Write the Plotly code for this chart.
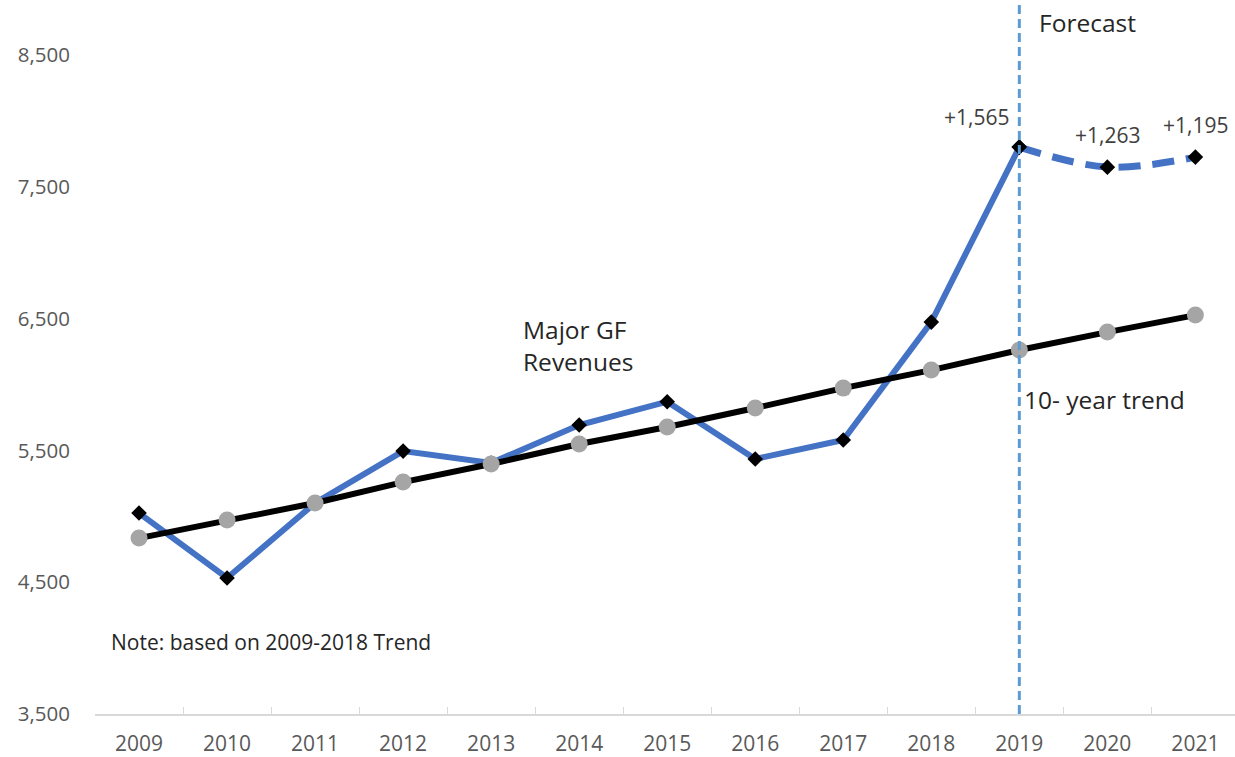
import plotly.graph_objects as go

years = [str(y) for y in range(2009, 2022)]
actual_years = years[:11]
actual = [5025, 4532, 5101, 5495, 5405, 5693, 5870, 5435, 5579, 6474, 7802]
forecast_years = years[10:]
forecast = [7802, 7650, 7726]
trend = [4835, 4972, 5101, 5260, 5397, 5549, 5678, 5822, 5973, 6110, 6262, 6398, 6527]
diff_labels = ["+1,565", "+1,263", "+1,195"]
y_ticks = [3500, 4500, 5500, 6500, 7500, 8500]

FONT = "Open Sans"
BLUE = "#4472C4"

def idx(year):
    return years.index(year)

fig = go.Figure()

# actual revenues
fig.add_trace(go.Scatter(
    x=actual_years, y=actual, mode="lines+markers",
    line=dict(color=BLUE, width=6),
    marker=dict(symbol="diamond", size=12, color="black"),
    hoverinfo="x+y"))

# forecast
fig.add_trace(go.Scatter(
    x=forecast_years, y=forecast, mode="lines+markers",
    line=dict(color=BLUE, width=7, dash="22px,12px", shape="spline"),
    marker=dict(symbol="diamond", size=12, color="black"),
    hoverinfo="x+y"))

# 10-year trend
fig.add_trace(go.Scatter(
    x=years, y=trend, mode="lines+markers",
    line=dict(color="black", width=6),
    marker=dict(symbol="circle", size=17, color="#A5A5A5"),
    hoverinfo="x+y"))

# difference labels
shifts = [(-43, 30), (0, 32), (0, 32)]
for xv, yv, lab, (dx, dy) in zip(forecast_years, forecast, diff_labels, shifts):
    fig.add_annotation(x=idx(xv), y=yv, text=lab, showarrow=False,
                       xshift=dx, yshift=dy,
                       font=dict(family=FONT, size=21, color="#404040"))

# forecast divider
fig.add_shape(type="line", xref="x", yref="paper",
              x0=idx("2019"), x1=idx("2019"), y0=0, y1=1.006,
              line=dict(color="#5B9BD5", width=3, dash="9px,5px"))

text_font = dict(family=FONT, size=24.5, color="#262626")
fig.add_annotation(x=idx("2019"), y=1.0, xref="x", yref="paper", text="Forecast",
                   showarrow=False, xanchor="left", yanchor="middle",
                   xshift=18, yshift=-13, font=text_font)
fig.add_annotation(x=idx("2019"), y=5890, text="10- year trend", showarrow=False,
                   xanchor="left", xshift=3, font=text_font)
fig.add_annotation(x=idx("2013"), y=6300, text="Major GF<br>Revenues", showarrow=False,
                   xanchor="left", xshift=30, align="left", font=text_font)
fig.add_annotation(x=idx("2009"), y=4050, text="Note: based on 2009-2018 Trend",
                   showarrow=False, xanchor="left", xshift=-30,
                   font=dict(family=FONT, size=21, color="#262626"))

fig.update_layout(
    width=1235, height=757,
    margin=dict(l=95, r=0, t=9, b=43),
    paper_bgcolor="white", plot_bgcolor="white",
    showlegend=False,
    font=dict(family=FONT, color="#595959"),
    xaxis=dict(
        type="category", range=[-0.5, 12.45],
        tickson="boundaries", ticks="inside", ticklen=7,
        tickcolor="#D9D9D9", tickwidth=1,
        showline=True, linecolor="#D9D9D9", linewidth=1.5,
        showgrid=False, zeroline=False, automargin=False,
        ticklabelstandoff=10,
        tickfont=dict(family=FONT, size=21, color="#595959"),
    ),
    yaxis=dict(
        range=[3500, 8850], tickvals=y_ticks,
        tickformat=",d", showgrid=False, zeroline=False,
        showline=False, ticks="", automargin=False,
        ticklabelstandoff=24,
        tickfont=dict(family=FONT, size=20.5, color="#595959"),
    ),
)

fig.write_html("out.html",
               config={"displayModeBar": False},
               post_script="document.body.style.margin='0';document.body.style.overflow='hidden';")
